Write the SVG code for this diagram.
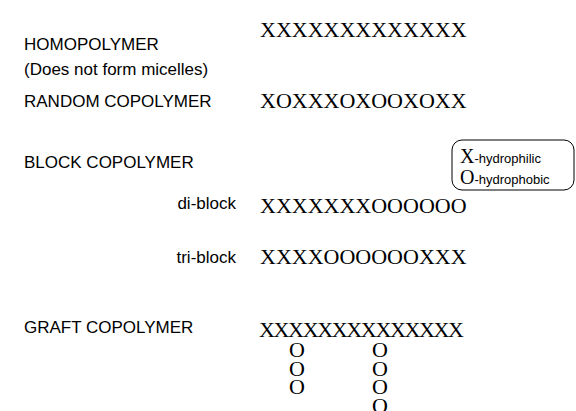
<svg xmlns="http://www.w3.org/2000/svg" width="576" height="411" viewBox="0 0 576 411">
  <style>
    .lbl { font-family: "Liberation Sans", Arial, sans-serif; font-size: 17px; fill: #000; }
    .seq { font-family: "Liberation Serif", "Times New Roman", serif; font-size: 22px; fill: #000; }
    .key { font-family: "Liberation Sans", Arial, sans-serif; font-size: 13px; fill: #000; }
    .keyc { font-family: "Liberation Serif", "Times New Roman", serif; font-size: 20px; fill: #000; }
  </style>
  <rect width="576" height="411" fill="#fff"/>

  <g id="homopolymer">
    <text class="lbl" x="24" y="50">HOMOPOLYMER</text>
    <text class="lbl" x="24" y="75">(Does not form micelles)</text>
    <text class="seq" x="260" y="37">XXXXXXXXXXXXX</text>
  </g>

  <g id="random-copolymer">
    <text class="lbl" x="24" y="107">RANDOM COPOLYMER</text>
    <text class="seq" x="260" y="108">XOXXXOXOOXOXX</text>
  </g>

  <g id="legend">
    <rect x="452" y="140" width="122" height="50" rx="10" ry="10" fill="none" stroke="#000" stroke-width="1"/>
    <text x="460" y="163"><tspan class="keyc">X</tspan><tspan class="key">-hydrophilic</tspan></text>
    <text x="460" y="184"><tspan class="keyc">O</tspan><tspan class="key">-hydrophobic</tspan></text>
  </g>

  <g id="block-copolymer">
    <text class="lbl" x="24" y="168">BLOCK COPOLYMER</text>
  </g>

  <g id="di-block">
    <text class="lbl" x="236" y="209" text-anchor="end">di-block</text>
    <text class="seq" x="260" y="213">XXXXXXXOOOOOO</text>
  </g>

  <g id="tri-block">
    <text class="lbl" x="236" y="263" text-anchor="end">tri-block</text>
    <text class="seq" x="260" y="264">XXXXOOOOOOXXX</text>
  </g>

  <g id="graft-copolymer">
    <text class="lbl" x="24" y="333">GRAFT COPOLYMER</text>
    <text class="seq" x="259" y="337" textLength="205" lengthAdjust="spacing">XXXXXXXXXXXXXX</text>
    <!-- side chain at the 3rd backbone unit -->
    <text class="seq" x="297" y="357" text-anchor="middle">O</text>
    <text class="seq" x="297" y="375.5" text-anchor="middle">O</text>
    <text class="seq" x="297" y="394" text-anchor="middle">O</text>
    <!-- side chain at the 8th backbone unit -->
    <text class="seq" x="380" y="357" text-anchor="middle">O</text>
    <text class="seq" x="380" y="375.5" text-anchor="middle">O</text>
    <text class="seq" x="380" y="394" text-anchor="middle">O</text>
    <text class="seq" x="380" y="412.5" text-anchor="middle">O</text>
  </g>
</svg>
